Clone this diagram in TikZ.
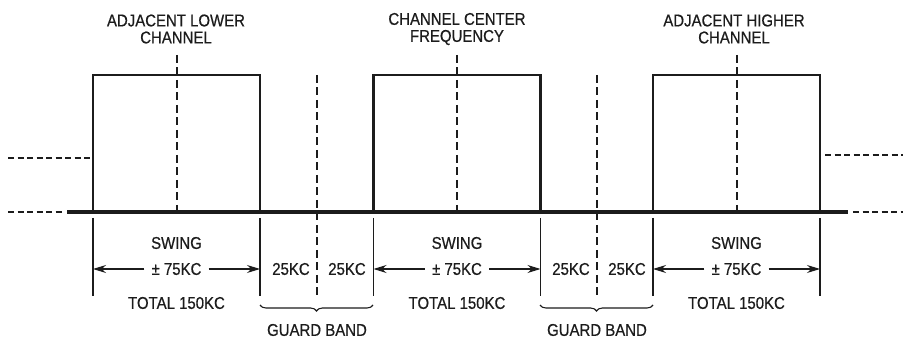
\documentclass[tikz,border=0pt]{standalone}
\usepackage{fontspec}
\setsansfont{Liberation Sans}[FakeStretch=0.88, FakeBold=0.6]
\usetikzlibrary{arrows.meta,decorations.pathreplacing}
\definecolor{ink}{HTML}{1C1C1C}

\begin{document}
\begin{tikzpicture}[
  x=1pt, y=-1pt, >=Stealth, line join=miter,
  chanbox/.style={draw=ink, line width=2.6pt},
  baseln/.style={ink, line width=4.5pt},
  cdash/.style={ink, line width=2pt, dash pattern=on 8pt off 4.5pt},
  spill/.style={ink, line width=1.6pt, dash pattern=on 6pt off 3.5pt},
  extln/.style={ink, line width=1.1pt},
  dimarr/.style={ink, line width=1.1pt, -{Stealth[length=13pt,width=8pt]}},
  lbl/.style={font=\sffamily\fontsize{17}{17}\selectfont, text=ink, align=center, inner sep=2pt},
  brc/.style={ink, line width=1.1pt, decorate, decoration={brace, mirror, amplitude=6pt}}]
\useasboundingbox (0,0) rectangle (903,339);

% ============================================== carrier line and spill-over
\draw[baseln] (67,212) -- (848,212);
\draw[spill] (8,158) -- (90,158);
\draw[spill] (8,212) -- (63,212);
\draw[spill] (825,155) -- (903,155);
\draw[spill] (853,212) -- (903,212);

% ============================================== the three channels
\foreach \cx/\nm in {176.5/low, 457/mid, 736.5/high}{
  \draw[chanbox] (\cx-83.5,212) |- (\cx+83.5,75) -- (\cx+83.5,212);
  \draw[cdash] (\cx,55) -- (\cx,212);
  % swing dimension
  \draw[extln] (\cx-83.5,218) -- (\cx-83.5,296);
  \draw[extln] (\cx+83.5,218) -- (\cx+83.5,296);
  \coordinate (\nm L) at (\cx-83.5,269);
  \coordinate (\nm R) at (\cx+83.5,269);
  \node[lbl] (sw\nm) at (\cx,243) {SWING};
  \node[lbl, inner sep=7pt] (pm\nm) at (\cx,269) {± 75KC};
  \node[lbl] (tot\nm) at (\cx,303) {TOTAL 150KC};
  \draw[dimarr] (pm\nm) -- (\nm L);
  \draw[dimarr] (pm\nm) -- (\nm R);
}

\node[lbl] (lowttl) at (176,29) {ADJACENT LOWER\\CHANNEL};
\node[lbl] (midttl) at (457,29) {CHANNEL CENTER\\FREQUENCY};
\node[lbl] (highttl) at (734,29) {ADJACENT HIGHER\\CHANNEL};

% ============================================== guard bands
\foreach \gx/\nm in {317/gA, 597/gB}{
  \draw[cdash] (\gx,75) -- (\gx,297);
  \node[lbl] (\nm-l) at (\gx-26,269) {25KC};
  \node[lbl] (\nm-r) at (\gx+30,269) {25KC};
  \coordinate (\nm-bl) at (\gx-57,305);
  \coordinate (\nm-br) at (\gx+56,305);
  \draw[brc] (\nm-bl) -- (\nm-br);
  \node[lbl] (\nm-ttl) at (\gx,330) {GUARD BAND};
}

\end{tikzpicture}
\end{document}
